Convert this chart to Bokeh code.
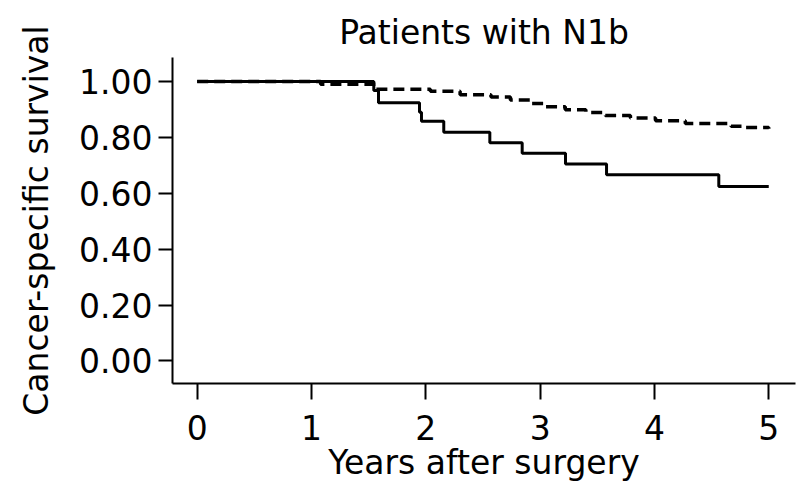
from bokeh.plotting import figure
from bokeh.models import FixedTicker, PrintfTickFormatter, Range1d
from bokeh.embed import file_html
from bokeh.resources import INLINE

# Solid curve (step function)
years_solid = [0, 1.545, 1.586, 1.945, 1.962, 2.157, 2.560, 2.843, 3.222, 3.581, 4.563, 5.0]
surv_solid = [1.0, 0.968, 0.924, 0.890, 0.858, 0.818, 0.781, 0.743, 0.705, 0.666, 0.624, 0.624]

# Dashed curve (step function)
years_dashed = [0, 1.08, 1.56, 2.04, 2.30, 2.57, 2.74, 2.92, 3.05, 3.22, 3.40, 3.57, 3.79, 4.01, 4.27, 4.67, 4.80, 5.0]
surv_dashed = [1.0, 0.990, 0.972, 0.965, 0.953, 0.945, 0.934, 0.921, 0.910, 0.899, 0.889, 0.878, 0.869, 0.860, 0.850, 0.840, 0.835, 0.831]

x_ticks = [0, 1, 2, 3, 4, 5]
y_ticks = [0.0, 0.2, 0.4, 0.6, 0.8, 1.0]

FONT = "DejaVu Sans"
FS = "33px"

p = figure(width=802, height=490, output_backend="svg", toolbar_location=None,
           x_range=Range1d(-0.216, 5.234), y_range=Range1d(-0.081, 1.086),
           title="Patients with N1b",
           min_border_left=172, min_border_right=7, min_border_top=57, min_border_bottom=107)

p.step(years_dashed, surv_dashed, mode="after", line_color="black", line_width=3.5, line_dash="11 6")
p.step(years_solid, surv_solid, mode="after", line_color="black", line_width=3)

p.title.align = "center"
p.title.text_font = FONT
p.title.text_font_size = FS
p.title.text_font_style = "normal"
p.title.text_color = "black"
p.title.standoff = 12

p.xgrid.visible = False
p.ygrid.visible = False
p.outline_line_color = None
p.background_fill_color = "white"
p.border_fill_color = "white"

for ax in (p.xaxis[0], p.yaxis[0]):
    ax.axis_line_color = "black"
    ax.axis_line_width = 2
    ax.major_tick_line_color = "black"
    ax.major_tick_line_width = 2
    ax.minor_tick_line_color = None
    ax.major_tick_in = 0
    ax.major_label_text_font = FONT
    ax.major_label_text_font_size = FS
    ax.major_label_text_color = "black"
    ax.axis_label_text_font = FONT
    ax.axis_label_text_font_size = FS
    ax.axis_label_text_font_style = "normal"
    ax.axis_label_text_color = "black"

p.xaxis.ticker = FixedTicker(ticks=x_ticks)
p.xaxis.major_tick_out = 16
p.xaxis.major_label_standoff = 15
p.xaxis.axis_label = "Years after surgery"
p.xaxis.axis_label_standoff = 0

p.yaxis.ticker = FixedTicker(ticks=y_ticks)
p.yaxis.formatter = PrintfTickFormatter(format="%.2f")
p.yaxis.major_tick_out = 14
p.yaxis.major_label_standoff = 6
p.yaxis.axis_label = "Cancer-specific survival"
p.yaxis.axis_label_standoff = 20

open("out.html", "w").write(file_html(p, INLINE))
